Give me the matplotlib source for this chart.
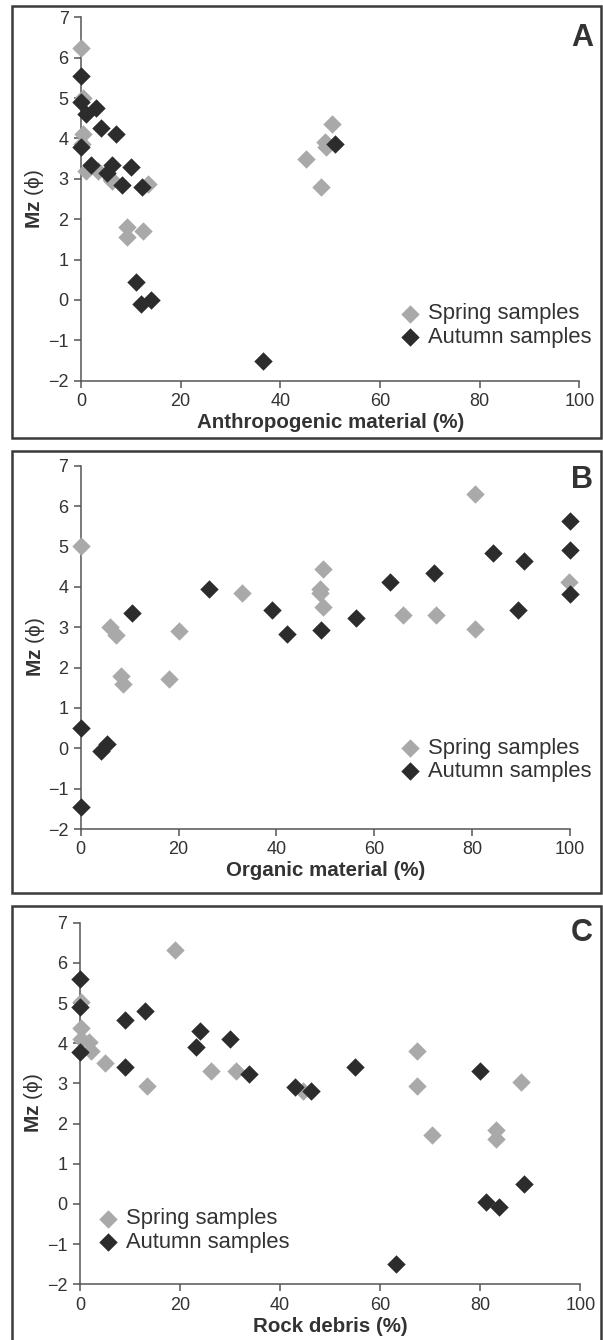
import numpy as np
import matplotlib
matplotlib.use("Agg")
from matplotlib import pyplot as plt
from matplotlib.patches import Rectangle

plt.rcParams['font.family'] = ['Liberation Sans', 'DejaVu Sans']
plt.rcParams['mathtext.fontset'] = 'custom'
plt.rcParams['mathtext.bf'] = 'Liberation Sans:bold'
plt.rcParams['mathtext.rm'] = 'Liberation Sans'

# panel A - anthropogenic material (%)
a_spring_x = [0, 0.5, 0.3, 0.5, 1, 3.5, 6.0, 6.2, 13.5, 9.3, 9.2, 12.5, 50.3, 49.0, 49.2, 45.2, 48.1]
a_spring_y = [6.25, 5.0, 3.85, 4.1, 3.2, 3.2, 3.0, 2.95, 2.86, 1.8, 1.55, 1.7, 4.35, 3.9, 3.8, 3.5, 2.8]
a_autumn_x = [0, 0, 1.1, 3.1, 4.0, 7.0, 0, 2.0, 5.2, 6.2, 10.0, 8.2, 12.2, 11.0, 12.0, 14.0, 36.5, 51.0]
a_autumn_y = [5.55, 4.9, 4.6, 4.75, 4.25, 4.1, 3.8, 3.35, 3.15, 3.35, 3.3, 2.85, 2.8, 0.45, -0.1, 0.0, -1.5, 3.85]

# panel B - organic material (%)
b_spring_x = [0, 5.9, 7.2, 8.2, 8.6, 18.0, 20.0, 33.0, 49.6, 48.9, 49.0, 49.6, 65.9, 72.6, 80.6, 80.6, 99.7]
b_spring_y = [5.0, 3.0, 2.8, 1.8, 1.6, 1.72, 2.91, 3.84, 4.43, 3.95, 3.85, 3.51, 3.31, 3.31, 2.96, 6.3, 4.11]
b_autumn_x = [26.3, 10.4, 39.0, 42.1, 0, 4.1, 5.3, 0, 49.1, 56.2, 63.2, 72.3, 84.3, 90.5, 89.4, 100, 100, 100]
b_autumn_y = [3.95, 3.35, 3.43, 2.84, 0.5, -0.07, 0.11, -1.45, 2.92, 3.23, 4.11, 4.33, 4.84, 4.63, 3.43, 5.64, 4.92, 3.82]

# panel C - rock debris (%)
c_spring_x = [19.0, 0.2, 0.2, 0.2, 1.7, 2.1, 5.0, 13.3, 26.1, 31.1, 44.6, 67.3, 67.3, 70.4, 83.1, 83.1, 88.1]
c_spring_y = [6.32, 5.02, 4.39, 4.1, 4.02, 3.8, 3.5, 2.94, 3.32, 3.32, 2.82, 3.81, 2.93, 1.72, 1.85, 1.62, 3.03]
c_autumn_x = [0, 0, 0, 8.9, 8.9, 13.0, 23.9, 23.1, 30.0, 33.8, 43.0, 46.2, 55.0, 80.0, 63.1, 81.1, 83.8, 88.8]
c_autumn_y = [5.6, 4.91, 3.77, 4.59, 3.4, 4.81, 4.31, 3.9, 4.11, 3.23, 2.92, 2.82, 3.4, 3.32, -1.49, 0.06, -0.08, 0.5]

xlabels = ["Anthropogenic material (%)", "Organic material (%)", "Rock debris (%)"]
letters = ["A", "B", "C"]
xticks = [0, 20, 40, 60, 80, 100]
yticks = [-2, -1, 0, 1, 2, 3, 4, 5, 6, 7]

W, H = 603, 1340
fig = plt.figure(figsize=(W / 100, H / 100), dpi=100)

def px_rect(l, t, r, b):
    return [l / W, 1 - b / H, (r - l) / W, (b - t) / H]

# axes boxes in pixels: left, top, right, bottom
boxes = [(81, 17.3, 579.3, 380.7), (80.7, 465.7, 570, 829), (80, 922.7, 580.3, 1284.3)]
frames = [(12, 6, 601, 438), (12, 451, 601, 893), (12, 905.5, 601, 1342)]
legend_pos = [(0.6436, 0.152), (0.656, 0.19), (0.0388, 0.149)]
letter_y = [46, 488, 941]

data = [(a_spring_x, a_spring_y, a_autumn_x, a_autumn_y),
        (b_spring_x, b_spring_y, b_autumn_x, b_autumn_y),
        (c_spring_x, c_spring_y, c_autumn_x, c_autumn_y)]

spring_col = "#a9a9a9"
autumn_col = "#2c2c2c"
text_col = "#333333"
axis_col = "#555555"

for i in range(3):
    l, t, r, b = frames[i]
    fig.patches.append(Rectangle((l / W, 1 - b / H), (r - l) / W, (b - t) / H,
                                 transform=fig.transFigure, fill=False,
                                 edgecolor="#3a3a3a", linewidth=1.8))
    ax = fig.add_axes(px_rect(*boxes[i]))
    sx, sy, ax_, ay = data[i]
    ax.scatter(sx, sy, marker='D', s=88, color=spring_col, linewidths=0,
               clip_on=False, zorder=3, label="Spring samples")
    ax.scatter(ax_, ay, marker='D', s=88, color=autumn_col, linewidths=0,
               clip_on=False, zorder=4, label="Autumn samples")
    ax.set_xlim(0, 100)
    ax.set_ylim(-2, 7)
    ax.set_xticks(xticks)
    ax.set_yticks(yticks)
    for s in ['top', 'right']:
        ax.spines[s].set_visible(False)
    for s in ['left', 'bottom']:
        ax.spines[s].set_color(axis_col)
        ax.spines[s].set_linewidth(1.1)
    ax.tick_params(direction='out', length=5, width=1.1, color=axis_col,
                   labelsize=13, labelcolor=text_col, pad=4)
    ax.set_xlabel(xlabels[i], fontsize=14.8, fontweight='bold', color=text_col, va='center')
    ax.xaxis.set_label_coords(0.5, -42 / 363.4)
    ax.set_ylabel(r"$\mathbf{Mz}$ (ϕ)", fontsize=15, color=text_col, va='center', ha='center')
    ax.yaxis.set_label_coords(-46 / 498.0, 0.5)
    leg = ax.legend(loc='center left', bbox_to_anchor=legend_pos[i], frameon=False,
                    fontsize=15.8, borderpad=0, borderaxespad=0, handlelength=0.8,
                    handletextpad=0.42, labelspacing=0.1, scatterpoints=1)
    for txt in leg.get_texts():
        txt.set_color(text_col)
    fig.text(593 / W, 1 - letter_y[i] / H, letters[i], fontsize=22, fontweight='bold',
             color=text_col, ha='right', va='baseline')

fig.savefig("out.png", dpi=100)
